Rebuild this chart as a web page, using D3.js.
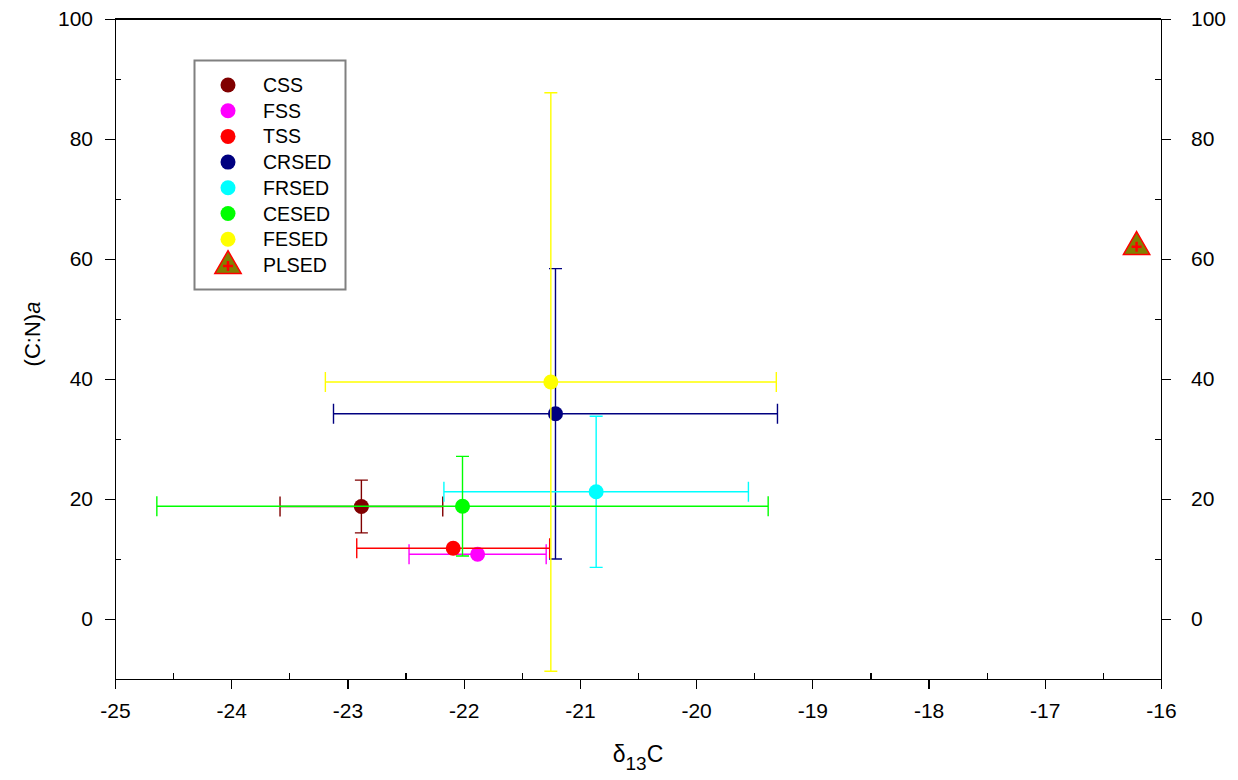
<!DOCTYPE html>
<html>
<head>
    <meta charset="UTF-8">
    <title>C:N vs d13C</title>
    <style>
        body { margin: 0; background: #fff; }
        svg { font-family: "Liberation Sans", Arial, sans-serif; }
        .axis path, .axis line { stroke: #000; stroke-width: 1.3px; shape-rendering: crispEdges; }
        .axis text { font-size: 21px; fill: #000; }
        .err { stroke-width: 1.4px; fill: none; }
        .legend text { font-size: 19.5px; }
    </style>
</head>
<body>
<svg width="1238" height="780"></svg>
<script src="https://cdn.jsdelivr.net/npm/d3@7"></script>
<script>

    // data
    var series = ["CSS", "FSS", "TSS", "CRSED", "FRSED", "CESED", "FESED", "PLSED"];
    var d13C = [-22.88, -21.88, -22.09, -21.21, -20.86, -22.01, -21.25, -16.21];
    var cn = [18.75, 10.8, 11.8, 34.2, 21.2, 18.8, 39.5, 62.2];
    var d13CErr = [0.70, 0.59, 0.83, 1.91, 1.31, 2.63, 1.94, 0];
    var cnErr = [4.4, 0, 0, 24.2, 12.6, 8.3, 48.2, 0];
    var colors = ["#800000", "#ff00ff", "#ff0000", "#000080", "#00ffff", "#00ff00", "#ffff00", "#808000"];

    var xTicks = [-25, -24, -23, -22, -21, -20, -19, -18, -17, -16];
    var yTicks = [0, 20, 40, 60, 80, 100];

    var svg = d3.select("svg");
    var margin = {top: 19, right: 77, bottom: 101, left: 115};
    var width = +svg.attr("width") - margin.left - margin.right;
    var height = +svg.attr("height") - margin.top - margin.bottom;
    var g = svg.append("g").attr("transform", "translate(" + margin.left + "," + margin.top + ")");

    var x = d3.scaleLinear().domain([-25, -16]).range([0, width]);
    var y = d3.scaleLinear().domain([-10, 100]).range([height, 0]);

    // plain hyphen for negatives, like the original
    var fmt = function (d) { return String(d); };

    // minor ticks go inward, major outward
    var xMinor = d3.range(-24.5, -16, 1);
    var yMinor = [10, 30, 50, 70, 90];

    g.append("g").attr("class", "axis")
        .attr("transform", "translate(0," + height + ")")
        .call(d3.axisBottom(x).tickValues(xTicks).tickSize(10).tickSizeOuter(0).tickPadding(14).tickFormat(fmt));
    g.append("g").attr("class", "axis")
        .attr("transform", "translate(0," + height + ")")
        .call(d3.axisBottom(x).tickValues(xMinor).tickSize(-6).tickFormat(""))
        .select(".domain").remove();

    g.append("g").attr("class", "axis")
        .call(d3.axisLeft(y).tickValues(yTicks).tickSize(10).tickSizeOuter(0).tickPadding(12).tickFormat(fmt));
    g.append("g").attr("class", "axis")
        .call(d3.axisLeft(y).tickValues(yMinor).tickSize(-6).tickFormat(""))
        .select(".domain").remove();

    g.append("g").attr("class", "axis")
        .attr("transform", "translate(" + width + ",0)")
        .call(d3.axisRight(y).tickValues(yTicks).tickSize(10).tickSizeOuter(0).tickPadding(20).tickFormat(fmt));
    g.append("g").attr("class", "axis")
        .attr("transform", "translate(" + width + ",0)")
        .call(d3.axisRight(y).tickValues(yMinor).tickSize(-6).tickFormat(""))
        .select(".domain").remove();

    // top frame line
    g.append("line")
        .attr("x1", 0).attr("x2", width).attr("y1", 0).attr("y2", 0)
        .style("stroke", "#000").style("stroke-width", "1.3px").style("shape-rendering", "crispEdges");

    g.selectAll(".axis text").style("font-size", "21px");

    // axis titles
    var xt = svg.append("text")
        .attr("x", margin.left + width / 2)
        .attr("y", 762)
        .attr("text-anchor", "middle")
        .style("font-size", "23px");
    xt.append("tspan").text("\u03b4");
    xt.append("tspan").attr("dy", 8).style("font-size", "19px").text("13");
    xt.append("tspan").attr("dy", -8).text("C");

    var yt = svg.append("text")
        .attr("transform", "translate(40,334) rotate(-90)")
        .attr("text-anchor", "middle")
        .style("font-size", "22px");
    yt.append("tspan").text("(C:N)");
    yt.append("tspan").style("font-style", "italic").text("a");

    // points with error bars, one series after another
    var capV = 6.5, capH = 10;
    var tri = d3.symbol().type(d3.symbolTriangle).size(300);

    series.forEach(function (name, i) {
        var s = g.append("g");
        var cx = x(d13C[i]), cy = y(cn[i]);
        var c = colors[i];
        if (d13CErr[i] > 0) {
            var x0 = x(d13C[i] - d13CErr[i]), x1 = x(d13C[i] + d13CErr[i]);
            s.append("path").attr("class", "err").attr("stroke", c)
                .attr("d", "M" + x0 + "," + cy + "H" + x1 +
                    "M" + x0 + "," + (cy - capH) + "V" + (cy + capH) +
                    "M" + x1 + "," + (cy - capH) + "V" + (cy + capH));
        }
        if (cnErr[i] > 0) {
            var y0 = y(cn[i] - cnErr[i]), y1 = y(cn[i] + cnErr[i]);
            s.append("path").attr("class", "err").attr("stroke", c)
                .attr("d", "M" + cx + "," + y0 + "V" + y1 +
                    "M" + (cx - capV) + "," + y0 + "H" + (cx + capV) +
                    "M" + (cx - capV) + "," + y1 + "H" + (cx + capV));
        }
        if (name === "PLSED") {
            s.append("path").attr("d", tri)
                .attr("transform", "translate(" + cx + "," + (cy + 1) + ")")
                .attr("fill", c).attr("stroke", "#ff0000").attr("stroke-width", 1.5);
            s.append("path").attr("stroke", "#ff0000").attr("stroke-width", 2.5)
                .attr("d", "M" + (cx - 5) + "," + (cy + 1) + "H" + (cx + 5) + "M" + cx + "," + (cy - 4) + "V" + (cy + 6));
        } else {
            s.append("circle").attr("cx", cx).attr("cy", cy).attr("r", 7.5).attr("fill", c);
        }
    });

    // legend
    var lg = svg.append("g").attr("class", "legend");
    lg.append("rect").attr("x", 194.5).attr("y", 60.5).attr("width", 151).attr("height", 229)
        .attr("fill", "#fff").attr("stroke", "#808080").attr("stroke-width", 2);
    series.forEach(function (name, i) {
        var ly = 85 + i * 25.7;
        if (name === "PLSED") {
            lg.append("path").attr("d", tri)
                .attr("transform", "translate(228," + (ly + 1) + ")")
                .attr("fill", colors[i]).attr("stroke", "#ff0000").attr("stroke-width", 1.5);
            lg.append("path").attr("stroke", "#ff0000").attr("stroke-width", 2.5)
                .attr("d", "M223," + (ly + 1) + "H233M228," + (ly - 4) + "V" + (ly + 6));
        } else {
            lg.append("circle").attr("cx", 228).attr("cy", ly).attr("r", 7.5).attr("fill", colors[i]);
        }
        lg.append("text").attr("x", 263).attr("y", ly).attr("dy", "0.36em").text(name);
    });

</script>
</body>
</html>
